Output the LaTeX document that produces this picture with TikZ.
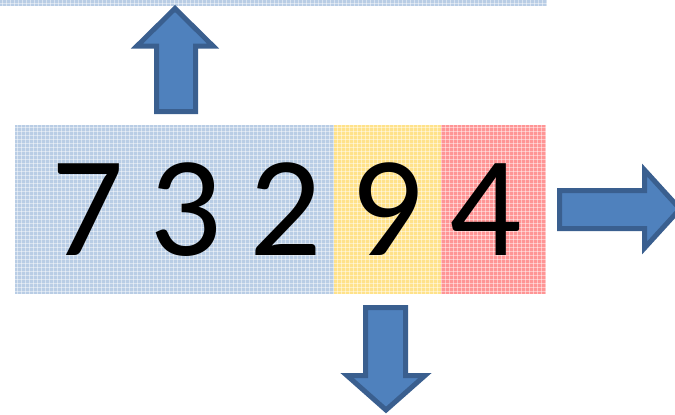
\documentclass[tikz,border=0pt]{standalone}
\usepackage{fontspec}
\setmainfont{Carlito}
\definecolor{cellblue}{HTML}{B9CDE5}
\definecolor{cellyellow}{HTML}{FFE28A}
\definecolor{cellred}{HTML}{FF9595}
\definecolor{arrowfill}{HTML}{4F81BD}
\definecolor{arrowline}{HTML}{3A5F8F}
\tikzset{
  cell/.style={draw=none},
  texture/.style={white, line width=0.9pt, opacity=0.45},
  fatarrow/.style={fill=arrowfill, draw=arrowline, line width=5pt, line join=miter},
  digit/.style={font=\fontsize{143}{143}\selectfont, anchor=base, inner sep=0pt}
}
\begin{document}
\begin{tikzpicture}[x=1pt,y=-1pt]
  \useasboundingbox (0,0) rectangle (675,415);
  \clip (0,0) rectangle (675,415);

  % top strip (row above)
  \fill[cellblue] (0,0) rectangle (547,6);
  \draw[texture] (0,3) -- (547,3);
  \foreach \x in {2,6,...,546} \draw[texture] (\x,0) -- (\x,6);

  % cells of the number
  \fill[cellblue]   (15,125)  rectangle (334,294);
  \fill[cellyellow] (334,125) rectangle (441,294);
  \fill[cellred]    (441,125) rectangle (546,294);
  \begin{scope}
    \clip (15,125) rectangle (546,294);
    \foreach \x in {17,21,...,546} \draw[texture] (\x,125) -- (\x,294);
    \foreach \y in {127,131,...,294} \draw[texture] (15,\y) -- (546,\y);
  \end{scope}

  % digits
  \node[digit] (d1) at (88,255)  {7};
  \node[digit] (d2) at (186,255) {3};
  \node[digit] (d3) at (286,255) {2};
  \node[digit] (d4) at (387,255) {9};
  \node[digit] (d5) at (486,255) {4};

  % block arrows
  \draw[fatarrow] (175,8.5) -- (213,46) -- (195.5,46) -- (195.5,111.5)
    -- (156.5,111.5) -- (156.5,46) -- (137,46) -- cycle;
  \draw[fatarrow] (386,410) -- (425,375.5) -- (405.5,375.5) -- (405.5,307.5)
    -- (365.5,307.5) -- (365.5,375.5) -- (347,375.5) -- cycle;
  \draw[fatarrow] (680,209) -- (644.5,248) -- (644.5,228.5) -- (559.5,228.5)
    -- (559.5,190.5) -- (644.5,190.5) -- (644.5,170) -- cycle;
\end{tikzpicture}
\end{document}
